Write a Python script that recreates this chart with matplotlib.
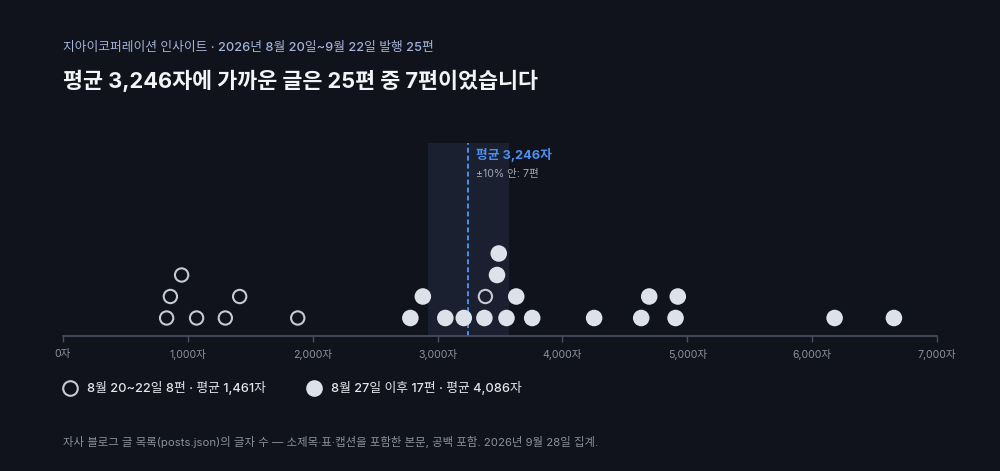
import matplotlib
matplotlib.use("Agg")
import matplotlib.pyplot as plt
from matplotlib.lines import Line2D
import numpy as np

plt.rcParams['font.family'] = ['Inter', 'Noto Sans CJK KR', 'DejaVu Sans']

# ---- data ----
early_counts = [830, 860, 950, 1070, 1300, 1415, 1880, 3383]
late_counts = [2782, 2882, 3062, 3210, 3375, 3476, 3490, 3552, 3630, 3758,
               4254, 4631, 4695, 4906, 4924, 6180, 6655]
early_label = "8월 20~22일 8편 · 평균 1,461자"
late_label = "8월 27일 이후 17편 · 평균 4,086자"
x_ticks = [0, 1000, 2000, 3000, 4000, 5000, 6000, 7000]
x_tick_labels = ["0자", "1,000자", "2,000자", "3,000자", "4,000자", "5,000자", "6,000자", "7,000자"]
subtitle = "지아이코퍼레이션 인사이트 · 2026년 8월 20일~9월 22일 발행 25편"
title = "평균 3,246자에 가까운 글은 25편 중 7편이었습니다"
mean_label = "평균 3,246자"
band_label = "±10% 안: 7편"
footer = "자사 블로그 글 목록(posts.json)의 글자 수 — 소제목·표·캡션을 포함한 본문, 공백 포함. 2026년 9월 28일 집계."

BG = "#10131b"
BAND = "#1b2030"
BLUE = "#4d8ff0"
DOT = "#dde1ea"
RING = "#c6cad4"
AXIS = "#4a5061"
TICK_TXT = "#8d929e"

all_counts = early_counts + late_counts
mean_val = float(np.mean(all_counts))
band_lo, band_hi = mean_val * 0.9, mean_val * 1.1

# beeswarm-like stacking (sorted by value, lowest free row)
pts = sorted([(v, 0) for v in early_counts] + [(v, 1) for v in late_counts])
placed = []
for v, g in pts:
    row = 0
    while any(pr == row and abs(v - pv) < 135 for pv, pr, _ in placed):
        row += 1
    placed.append((v, row, g))

fig = plt.figure(figsize=(10, 4.71), dpi=100, facecolor=BG)
ax = fig.add_axes([0.063, 1 - 336 / 471, 0.874, (336 - 143) / 471])
ax.set_facecolor(BG)
ax.set_xlim(0, 7000)
ax.set_ylim(-18 / 21.5, (193 - 18) / 21.5)

ax.axvspan(band_lo, band_hi, color=BAND, zorder=0, lw=0)
ax.axvline(mean_val, color=BLUE, lw=1.4, linestyle=(0, (2.5, 1.6)), zorder=1)

ex = [p[0] for p in placed if p[2] == 0]
ey = [p[1] for p in placed if p[2] == 0]
lx = [p[0] for p in placed if p[2] == 1]
ly = [p[1] for p in placed if p[2] == 1]
ax.scatter(lx, ly, s=142, color=DOT, edgecolors='none', zorder=3)
ax.scatter(ex, ey, s=92, facecolors='none', edgecolors=RING, linewidths=1.5, zorder=3)

for s in ['top', 'left', 'right']:
    ax.spines[s].set_visible(False)
ax.spines['bottom'].set_color(AXIS)
ax.spines['bottom'].set_linewidth(1.2)
ax.set_yticks([])
ax.set_xticks(x_ticks)
ax.set_xticklabels(x_tick_labels)
ax.tick_params(axis='x', colors=AXIS, length=4, width=1, pad=5, labelsize=7.6, labelcolor=TICK_TXT)

ax.annotate(mean_label, xy=(mean_val, 1), xycoords=('data', 'axes fraction'),
            xytext=(8, -12), textcoords='offset pixels', va='center', ha='left',
            color=BLUE, fontsize=9.2, fontweight='bold')
ax.annotate(band_label, xy=(mean_val, 1), xycoords=('data', 'axes fraction'),
            xytext=(8, -31), textcoords='offset pixels', va='center', ha='left',
            color="#a3a8b3", fontsize=7.6)

fig.text(0.063, 1 - 47.5 / 471, subtitle, color="#a3b4d8", fontsize=9.2, fontweight='medium',
         va='center', ha='left')
fig.text(0.063, 1 - 81 / 471, title, color="#f3f4f7", fontsize=15.7, fontweight='bold', va='center', ha='left')
fig.text(0.063, 1 - 442 / 471, footer, color="#8b909c", fontsize=8.2, va='center', ha='left')

# legend (manual placement)
ly_fig = 1 - 388 / 471
fig.add_artist(Line2D([70 / 1000], [ly_fig], transform=fig.transFigure, linestyle='none',
                      marker='o', markersize=10.5, markerfacecolor='none',
                      markeredgecolor=RING, markeredgewidth=1.5))
fig.text(87 / 1000, ly_fig, early_label, color="#e3e6ed", fontsize=9.2, fontweight='medium',
         va='center', ha='left')
fig.add_artist(Line2D([314 / 1000], [ly_fig], transform=fig.transFigure, linestyle='none',
                      marker='o', markersize=12, markerfacecolor=DOT, markeredgecolor='none'))
fig.text(331 / 1000, ly_fig, late_label, color="#e3e6ed", fontsize=9.2, fontweight='medium',
         va='center', ha='left')

fig.savefig("out.png", dpi=100, facecolor=BG)
